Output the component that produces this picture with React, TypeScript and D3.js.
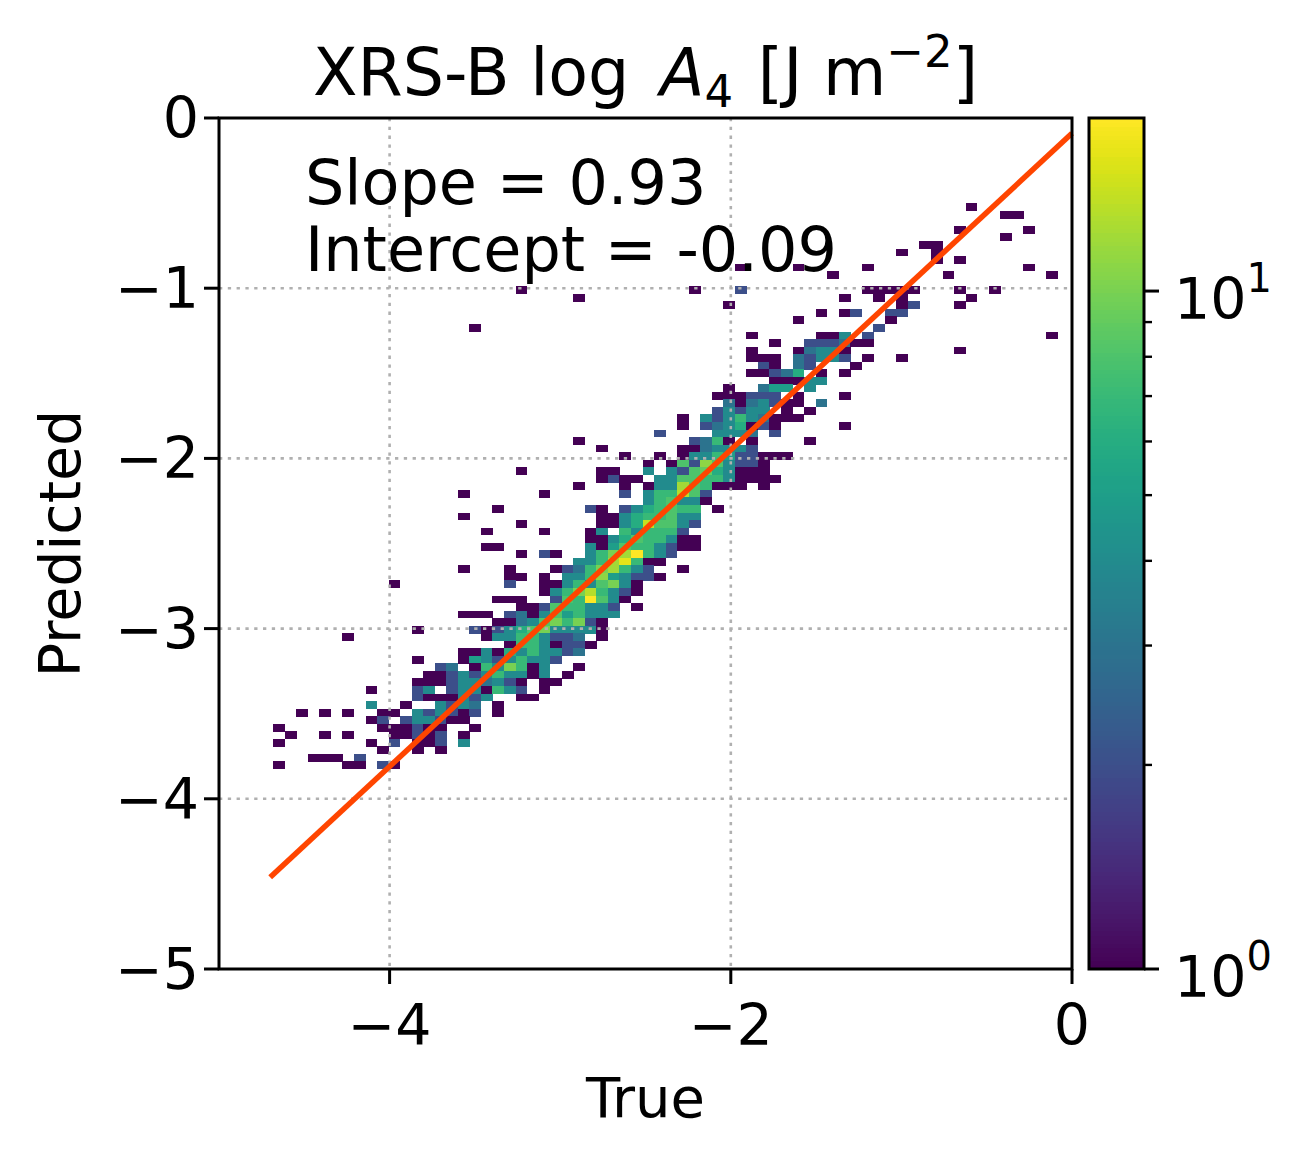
import React from 'react';
import * as d3 from 'd3';

// ---- data ----
const xTicks = [-4, -2, 0];
const yTicks = [0, -1, -2, -3, -4, -5];
const cbarMajor = [1, 10];
const cbarMinor = [2, 3, 4, 5, 6, 7, 8, 9];
const slope = 0.93;
const intercept = -0.09;
const fitRange = [-4.7, 0];
// histogram grid (data units)
const binLeft = -4.682;
const binWidth = 0.06764;
const binTop = -0.501;
const binHeight = 0.04432;
const countMax = 18;
// [row from top, "col:count ..."]
const histRows: [number, string][] = [
  [0, '60:1'],
  [1, '63:1 64:1'],
  [3, '59:1 65:1'],
  [4, '63:1'],
  [5, '56:1 57:1'],
  [6, '54:1 57:1'],
  [7, '57:1 59:1'],
  [8, '40:1 45:1 51:1 65:1'],
  [9, '48:1 58:1 67:1'],
  [11, '21:1 36:1 40:2 51:1 52:1 53:1 54:1 55:1 59:1 62:1'],
  [12, '26:1 49:1 52:1 54:1 60:1'],
  [13, '39:1 54:1 55:2 59:1'],
  [14, '47:1 49:1 50:2 53:2 54:2'],
  [15, '45:1 53:1'],
  [16, '17:1 52:2'],
  [17, '41:1 47:1 48:1 49:4 51:2 67:1'],
  [18, '43:1 46:2 47:2 48:2 49:3 50:1 51:1'],
  [19, '41:1 45:1 46:3 47:4 48:4 49:1 59:1'],
  [20, '41:1 42:1 43:1 45:3 46:2 47:4 48:4 49:2 51:1 54:1'],
  [21, '42:2 43:1 45:3 46:2 50:1'],
  [22, '41:1 42:1 43:2 44:3 45:6 47:1 49:1'],
  [23, '43:1 44:1 45:1 46:4 47:4'],
  [24, '39:1 42:3 43:5 44:5 46:4'],
  [25, '38:1 39:1 40:1 41:2 42:2 43:2 45:1 49:1'],
  [26, '39:3 40:1 41:3 42:4 43:2 44:1 45:1 47:3'],
  [27, '38:2 39:4 40:2 41:4 42:4 44:1 46:1'],
  [28, '35:1 37:4 38:2 39:4 40:7 41:4 42:3 43:1 44:1 45:1'],
  [29, '35:1 37:2 38:3 39:4 40:6 41:1 42:2 43:1 49:1'],
  [30, '33:2 38:4 39:4 40:4 41:3 43:2'],
  [31, '26:1 36:2 37:3 38:7 39:1 41:1 46:1'],
  [32, '28:1 35:1 36:1 37:3 38:4 39:4 40:4 41:2'],
  [33, '30:1 33:1 35:1 36:4 37:4 38:7 39:5 40:2 41:2 42:1 43:1 44:1'],
  [34, '32:1 34:1 35:8 36:2 37:11 38:8 39:4 40:2 41:2 42:1'],
  [35, '21:1 28:1 29:1 32:4 34:4 35:2 36:8 37:9 38:6 39:4 40:1 41:1 42:1'],
  [36, '28:1 29:2 30:1 31:1 33:4 34:4 35:8 36:8 37:7 38:7 39:4 40:1 41:1 42:1 43:1'],
  [37, '26:1 30:1 32:1 33:4 34:4 35:12 36:8 37:7 38:1 39:1 40:1 42:1'],
  [38, '16:1 23:1 30:2 32:4 33:7 34:7 35:13 36:8 37:2'],
  [39, '32:4 33:7 34:8 35:4 36:4 37:1'],
  [40, '19:1 27:2 28:1 30:2 31:4 32:6 33:7 34:8 35:7 36:7 38:1'],
  [41, '16:1 28:1 29:1 30:4 31:6 32:7 33:7 34:8 35:4 36:4'],
  [42, '21:1 28:1 29:1 30:4 31:6 32:14 33:8 34:8 35:4 36:2'],
  [43, '18:1 23:1 27:1 28:4 30:7 31:4 32:7 33:7 34:7 35:2'],
  [44, '27:1 28:1 29:4 30:6 31:8 32:7 33:7 34:4 35:1 36:1'],
  [45, '18:1 19:1 27:4 28:1 29:5 30:8 31:7 32:7 33:4 34:2 35:1 36:1'],
  [46, '21:1 23:2 24:1 27:4 28:7 29:10 30:12 31:18 32:7 33:4 34:2'],
  [47, '26:4 27:4 28:7 29:12 30:16 31:7 32:1 33:1'],
  [48, '16:1 20:1 24:1 25:2 26:3 27:7 28:10 29:12 30:7 31:4 32:2 35:1'],
  [49, '20:1 21:1 23:1 25:4 26:4 27:7 28:11 29:5 30:4 31:2 32:2 33:1'],
  [50, '10:1 20:2 23:1 24:1 25:4 26:7 27:4 28:8 29:10 30:4 31:1'],
  [51, '23:1 24:4 25:7 26:10 27:13 28:7 29:4 30:2 31:1'],
  [52, '19:1 20:1 21:1 24:2 25:8 26:7 27:18 28:8 29:4 30:1'],
  [53, '21:1 22:1 23:2 24:8 25:7 26:7 27:4 28:4 29:2 31:1'],
  [54, '16:1 17:1 18:1 20:2 21:3 22:1 23:4 24:8 25:5 26:7 27:4 28:4 29:4'],
  [55, '19:1 20:1 21:3 22:4 23:8 24:10 25:7 26:10 27:2 28:1'],
  [56, '12:1 17:2 18:1 19:2 20:4 21:6 22:8 23:10 24:4 25:4 26:4 27:4 28:1'],
  [57, '6:1 18:1 19:4 20:4 21:7 22:7 23:4 24:2 25:2 26:3 28:1'],
  [58, '20:1 21:7 22:7 23:4 24:1 25:2 26:2 27:1'],
  [59, '16:1 17:1 18:4 19:1 20:6 21:4 22:7 23:4 24:4 25:2 26:3'],
  [60, '12:1 16:1 17:5 18:4 19:2 20:4 21:7 22:4 23:4 24:2'],
  [61, '14:2 15:3 17:1 18:7 19:4 20:10 21:7 22:1 23:4 26:1'],
  [62, '13:1 14:1 15:2 16:4 17:2 18:4 19:7 20:4 21:4 22:1 23:4 25:1'],
  [63, '12:1 13:1 14:1 15:2 16:4 17:4 18:3 19:4 20:2 21:1 23:1 24:1'],
  [64, '8:1 12:2 13:4 15:2 16:4 17:4 18:1 19:7 20:4 21:2 23:1'],
  [65, '12:2 13:1 14:1 15:1 16:4 17:2 18:4 21:1 22:1'],
  [66, '8:4 11:1 14:4 15:2 16:4 17:3 19:1'],
  [67, '2:1 4:1 6:1 9:1 10:1 12:4 13:2 14:4 15:2 16:1 17:2 19:1'],
  [68, '8:1 9:2 11:2 12:4 13:4 14:2 15:1 16:1'],
  [69, '0:1 9:1 10:1 11:1 12:2 13:1 14:1 17:1'],
  [70, '1:1 4:1 6:1 10:1 11:1 12:2 13:1 14:2 16:1'],
  [71, '0:1 8:1 10:2 12:1 13:1 14:2 16:4'],
  [72, '9:1 12:1 14:1'],
  [73, '3:1 4:1 5:1 7:2'],
  [74, '0:1 6:1 7:1 9:2 10:1'],
];

const W = 1303;
const H = 1161;
const FONT = 'DejaVu Sans, sans-serif';
const MINUS = '\u2212';
const fmt = (v: number) => (v < 0 ? MINUS + Math.abs(v) : String(v));

export default function App() {
  const plot = { left: 219, right: 1072, top: 118, bottom: 969 };
  const x = d3.scaleLinear().domain([-5, 0]).range([plot.left, plot.right]);
  const y = d3.scaleLinear().domain([-5, 0]).range([plot.bottom, plot.top]);
  const color = d3.scaleSequentialLog(d3.interpolateViridis).domain([1, countMax]);
  const cb = { left: 1089, right: 1144 };
  const cy = d3.scaleLog().domain([1, countMax]).range([plot.bottom, plot.top]);

  const cells: { c: number; r: number; n: number }[] = [];
  histRows.forEach(([r, s]) => {
    s.split(' ').forEach((tok) => {
      const [c, n] = tok.split(':').map(Number);
      cells.push({ c, r, n });
    });
  });

  const line = d3
    .line<number>()
    .x((d) => x(d))
    .y((d) => y(slope * d + intercept));

  const gradSteps = d3.range(200);
  const tickFs = 57;

  return (
    <svg
      width={W}
      height={H}
      style={{ position: 'absolute', left: 0, top: 0, background: '#fff' }}
      fontFamily={FONT}
    >
      <rect width={W} height={H} fill="#fff" />
      {/* histogram cells */}
      <g shapeRendering="crispEdges">
        {cells.map(({ c, r, n }, i) => {
          const x0 = x(binLeft + c * binWidth);
          const x1 = x(binLeft + (c + 1) * binWidth);
          const y0 = y(binTop - r * binHeight);
          const y1 = y(binTop - (r + 1) * binHeight);
          return <rect key={i} x={x0} y={y0} width={x1 - x0 + 0.3} height={y1 - y0 + 0.3} fill={color(n)} />;
        })}
      </g>
      {/* grid */}
      <g stroke="#b0b0b0" strokeWidth={2.6} strokeDasharray="3.3 5.5">
        {xTicks.filter((t) => t > -5 && t < 0).map((t) => (
          <line key={'gx' + t} x1={x(t)} x2={x(t)} y1={plot.top} y2={plot.bottom} />
        ))}
        {yTicks.filter((t) => t > -5 && t < 0).map((t) => (
          <line key={'gy' + t} x1={plot.left} x2={plot.right} y1={y(t)} y2={y(t)} />
        ))}
      </g>
      {/* fit line */}
      <path d={line(fitRange) || ''} fill="none" stroke="#ff4500" strokeWidth={5.5} />
      {/* frame */}
      <rect
        x={plot.left}
        y={plot.top}
        width={plot.right - plot.left}
        height={plot.bottom - plot.top}
        fill="none"
        stroke="#000"
        strokeWidth={3}
      />
      {/* x ticks */}
      {xTicks.map((t) => (
        <g key={'xt' + t}>
          <line x1={x(t)} x2={x(t)} y1={plot.bottom} y2={plot.bottom + 15} stroke="#000" strokeWidth={3} />
          <text x={x(t)} y={plot.bottom + 76} fontSize={tickFs} textAnchor="middle">
            {fmt(t)}
          </text>
        </g>
      ))}
      {/* y ticks */}
      {yTicks.map((t) => (
        <g key={'yt' + t}>
          <line x1={plot.left - 15} x2={plot.left} y1={y(t)} y2={y(t)} stroke="#000" strokeWidth={3} />
          <text x={plot.left - 20} y={y(t) + 20} fontSize={tickFs} textAnchor="end">
            {fmt(t)}
          </text>
        </g>
      ))}
      {/* axis labels */}
      <text x={(plot.left + plot.right) / 2} y={1117} fontSize={56} textAnchor="middle">
        True
      </text>
      <text
        transform={`translate(80, ${(plot.top + plot.bottom) / 2}) rotate(-90)`}
        fontSize={57}
        textAnchor="middle"
      >
        Predicted
      </text>
      {/* title */}
      <text x={(plot.left + plot.right) / 2} y={95} fontSize={65} textAnchor="middle">
        <tspan>XRS-B log </tspan>
        <tspan fontStyle="italic" dx={10}>A</tspan>
        <tspan fontSize={45} dy={12}>4</tspan>
        <tspan dy={-12} dx={4}> [J m</tspan>
        <tspan fontSize={45} dy={-28}>{MINUS}2</tspan>
        <tspan dy={28}>]</tspan>
      </text>
      {/* annotation */}
      <text x={305} y={204} fontSize={62}>
        Slope = {slope.toFixed(2)}
      </text>
      <text x={305} y={271} fontSize={62}>
        Intercept = {intercept.toFixed(2)}
      </text>
      {/* colorbar */}
      <g shapeRendering="crispEdges">
        {gradSteps.map((i) => {
          const v0 = Math.pow(countMax, i / gradSteps.length);
          const v1 = Math.pow(countMax, (i + 1) / gradSteps.length);
          const vm = Math.pow(countMax, (i + 0.5) / gradSteps.length);
          return (
            <rect
              key={'cb' + i}
              x={cb.left}
              width={cb.right - cb.left}
              y={cy(v1)}
              height={cy(v0) - cy(v1) + 0.6}
              fill={color(vm)}
            />
          );
        })}
      </g>
      <rect
        x={cb.left}
        y={plot.top}
        width={cb.right - cb.left}
        height={plot.bottom - plot.top}
        fill="none"
        stroke="#000"
        strokeWidth={3}
      />
      {cbarMinor.map((v) => (
        <line key={'cm' + v} x1={cb.right} x2={cb.right + 8} y1={cy(v)} y2={cy(v)} stroke="#000" strokeWidth={2.4} />
      ))}
      {cbarMajor.map((v) => {
        const e = Math.round(Math.log10(v));
        return (
          <g key={'cM' + v}>
            <line x1={cb.right} x2={cb.right + 15} y1={cy(v)} y2={cy(v)} stroke="#000" strokeWidth={3} />
            <text x={cb.right + 30} y={cy(v) + 28} fontSize={tickFs}>
              <tspan>10</tspan>
              <tspan fontSize={40} dy={-27}>{e}</tspan>
            </text>
          </g>
        );
      })}
    </svg>
  );
}
